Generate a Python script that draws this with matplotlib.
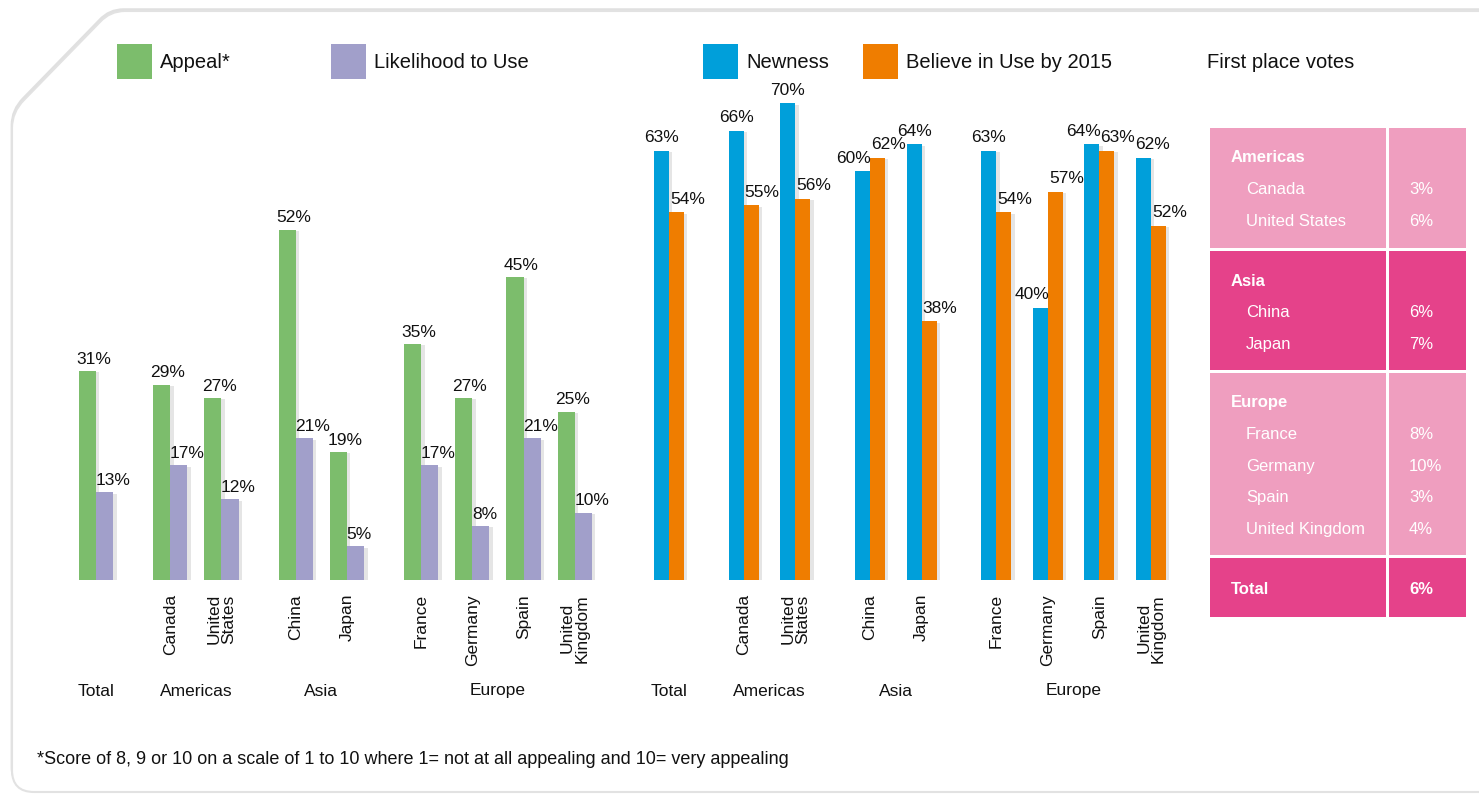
import matplotlib
matplotlib.use("Agg")
import matplotlib.pyplot as plt
import matplotlib.patheffects as pe
from matplotlib.patches import Rectangle, PathPatch
from matplotlib.path import Path
from matplotlib.transforms import blended_transform_factory

# ---------------- data ----------------
countries = ["Total", "Canada", "United\nStates", "China", "Japan",
             "France", "Germany", "Spain", "United\nKingdom"]
groups = ["Total", "Americas", "Asia", "Europe"]
group_members = [[0], [1, 2], [3, 4], [5, 6, 7, 8]]

appeal = [31, 29, 27, 52, 19, 35, 27, 45, 25]
likelihood = [13, 17, 12, 21, 5, 17, 8, 21, 10]
newness = [63, 66, 70, 60, 64, 63, 40, 64, 62]
believe = [54, 55, 56, 62, 38, 54, 57, 63, 52]

table_regions = ["Americas", "Asia", "Europe"]
table_countries = [["Canada", "United States"], ["China", "Japan"],
                   ["France", "Germany", "Spain", "United Kingdom"]]
table_votes = [["3%", "6%"], ["6%", "7%"], ["8%", "10%", "3%", "4%"]]
table_total = "6%"

legend_labels = ["Appeal*", "Likelihood to Use", "Newness", "Believe in Use by 2015"]
table_title = "First place votes"
footnote = "*Score of 8, 9 or 10 on a scale of 1 to 10 where 1= not at all appealing and 10= very appealing"

# ---------------- style / layout ----------------
GREEN, PURPLE, BLUE, ORANGE = "#7cbd6c", "#a19fca", "#009fda", "#ef7d00"
PINK_L, PINK_D = "#ef9ebf", "#e5428a"
positions = [0, 1.45, 2.45, 3.9, 4.9, 6.35, 7.35, 8.35, 9.35]
blue_ha = ["center", "center", "center", "right", "center", "center", "right", "right", "left"]

W, H = 1479, 795
NARROW = ["Liberation Sans Narrow", "Liberation Sans", "DejaVu Sans"]
REG = ["Liberation Sans", "DejaVu Sans"]

fig = plt.figure(figsize=(W / 100, H / 100), dpi=100)
fig.patch.set_facecolor("white")

# overlay axes in pixel coordinates for decorations
deco = fig.add_axes([0, 0, 1, 1], zorder=0)
deco.set_xlim(0, W)
deco.set_ylim(H, 0)
deco.axis("off")

# panel with notched top-left corner
verts = [(125, 11), (W + 20, 11), (W + 20, 792), (34, 792),
         (12, 792), (12, 770), (12, 128), (12, 112), (24, 100),
         (100, 22), (110, 11), (125, 11), (125, 11)]
codes = [Path.MOVETO, Path.LINETO, Path.LINETO, Path.LINETO,
         Path.CURVE3, Path.CURVE3, Path.LINETO, Path.CURVE3, Path.CURVE3,
         Path.LINETO, Path.CURVE3, Path.CURVE3, Path.CLOSEPOLY]
panel = PathPatch(Path(verts, codes), facecolor="white", edgecolor="#e2e2e2", lw=1.5,
                  path_effects=[pe.SimplePatchShadow(offset=(-1, 2), shadow_rgbFace="#9a9a9a", alpha=0.3),
                                pe.Normal()])
deco.add_patch(panel)

# legend
leg_items = [(117, GREEN), (331, PURPLE), (703, BLUE), (863, ORANGE)]
for (x0, col), lab in zip(leg_items, legend_labels):
    deco.add_patch(Rectangle((x0, 44), 35, 35, facecolor=col, edgecolor="none"))
    deco.text(x0 + 43, 62, lab, fontsize=14.5, family=REG, va="center", ha="left", color="#111111")
deco.text(1207, 62, table_title, fontsize=14.5, family=REG, va="center", ha="left", color="#111111")

# footnote
deco.text(37, 760, footnote, fontsize=13, family=NARROW, va="center", ha="left", color="#111111")

# table
col1 = (1210, 1386)
col2 = (1389, 1466)
blocks = [(128, 248, PINK_L), (251, 370, PINK_D), (373, 555, PINK_L)]
row_step = 31.6
TFS = 12
for (y0, y1, col), reg, ctrs, vals in zip(blocks, table_regions, table_countries, table_votes):
    for cx in (col1, col2):
        deco.add_patch(Rectangle((cx[0], y0), cx[1] - cx[0], y1 - y0, facecolor=col, edgecolor="none"))
    deco.text(1231, y0 + 30, reg, fontsize=TFS, family=NARROW, weight="bold", color="white", va="center")
    for i, (c, v) in enumerate(zip(ctrs, vals)):
        yy = y0 + 30 + row_step * (i + 1)
        deco.text(1246, yy, c, fontsize=TFS, family=NARROW, color="white", va="center")
        deco.text(1409, yy, v, fontsize=TFS, family=NARROW, color="white", va="center")
for cx in (col1, col2):
    deco.add_patch(Rectangle((cx[0], 558), cx[1] - cx[0], 59, facecolor=PINK_D, edgecolor="none"))
deco.text(1231, 590, "Total", fontsize=TFS, family=NARROW, weight="bold", color="white", va="center")
deco.text(1409, 590, table_total, fontsize=TFS, family=NARROW, weight="bold", color="white", va="center")


def fx(px):
    return px / W


def make_axes(left_px, right_px, first_px, unit_px, ymax):
    ax = fig.add_axes([fx(left_px), 1 - 580 / H, (right_px - left_px) / W, 500 / H], zorder=2)
    ax.patch.set_alpha(0)
    ax.set_xlim((left_px - first_px) / unit_px, (right_px - first_px) / unit_px)
    ax.set_ylim(0, ymax)
    for s in ax.spines.values():
        s.set_visible(False)
    ax.set_yticks([])
    ax.set_xticks(positions[1:])
    ax.set_xticklabels(countries[1:], rotation=90, fontsize=12.5, family=NARROW,
                       linespacing=0.95, color="#111111")
    ax.tick_params(axis="x", length=0, pad=10)
    trans = blended_transform_factory(ax.transData, fig.transFigure)
    for g, mem in zip(groups, group_members):
        xc = sum(positions[m] for m in mem) / len(mem)
        ax.text(xc, 1 - 691 / H, g, transform=trans, ha="center", va="center",
                fontsize=12.5, family=NARROW, color="#111111")
    return ax


shadow = [pe.SimplePatchShadow(offset=(2.5, -1), shadow_rgbFace="#999999", alpha=0.25), pe.Normal()]

# left chart
axL = make_axes(60, 610, 96, 51.2, 500 / 6.74)
wL = 0.335
xg = [p - wL / 2 for p in positions]
xp = [p + wL / 2 for p in positions]
axL.bar(xg, appeal, width=wL, color=GREEN, path_effects=shadow)
axL.bar(xp, likelihood, width=wL, color=PURPLE, path_effects=shadow)
for x, v in zip(xg, appeal):
    axL.annotate(f"{v}%", (x - wL / 2 - 0.05, v), xytext=(0, 3), textcoords="offset points",
                 ha="left", va="bottom", fontsize=12.5, family=NARROW, color="#111111")
for x, v in zip(xp, likelihood):
    axL.annotate(f"{v}%", (x - wL / 2 - 0.01, v), xytext=(0, 3), textcoords="offset points",
                 ha="left", va="bottom", fontsize=12.5, family=NARROW, color="#111111")

# right chart
axR = make_axes(630, 1190, 669, 51.55, 500 / 6.81)
wR = 0.29
xb = [p - wR / 2 for p in positions]
xo = [p + wR / 2 for p in positions]
axR.bar(xb, newness, width=wR, color=BLUE, path_effects=shadow)
axR.bar(xo, believe, width=wR, color=ORANGE, path_effects=shadow)
for x, v, ha in zip(xb, newness, blue_ha):
    ax_x = {"center": x, "right": x + wR / 2 + 0.02, "left": x - wR / 2 - 0.02}[ha]
    axR.annotate(f"{v}%", (ax_x, v), xytext=(0, 4), textcoords="offset points",
                 ha=ha, va="bottom", fontsize=12.5, family=NARROW, color="#111111")
for x, v in zip(xo, believe):
    axR.annotate(f"{v}%", (x - wR / 2 + 0.02, v), xytext=(0, 4), textcoords="offset points",
                 ha="left", va="bottom", fontsize=12.5, family=NARROW, color="#111111")

fig.savefig("out.png", dpi=100)
